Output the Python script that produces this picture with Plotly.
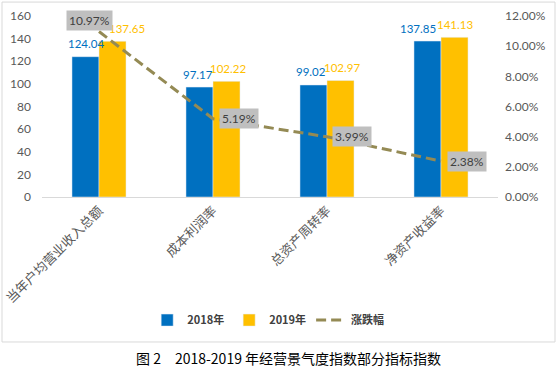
import plotly.graph_objects as go

categories = ["当年户均营业收入总额", "成本利润率", "总资产周转率", "净资产收益率"]
values_2018 = [124.04, 97.17, 99.02, 137.85]
values_2019 = [137.65, 102.22, 102.97, 141.13]
change_pct = [0.1097, 0.0519, 0.0399, 0.0238]
left_ticks = [0, 20, 40, 60, 80, 100, 120, 140, 160]
right_ticks = [0, 0.02, 0.04, 0.06, 0.08, 0.10, 0.12]

BLUE = "#0070C0"
YELLOW = "#FFC000"
OLIVE = "#948A54"
NUM_FONT = "Lato, Noto Sans CJK SC, sans-serif"
CJK_FONT = "Noto Sans CJK SC, sans-serif"

fig = go.Figure()
fig.add_trace(go.Bar(name="2018年", x=categories, y=values_2018, marker_color=BLUE))
fig.add_trace(go.Bar(name="2019年", x=categories, y=values_2019, marker_color=YELLOW))
fig.add_trace(go.Scatter(name="涨跌幅", x=categories, y=change_pct, yaxis="y2",
                         mode="lines", line=dict(color=OLIVE, width=3, dash="10px,5px")))

annotations = []
# label offsets (px) from category centre, per category
blue_xshift = [-13.5, -15.5, -16, -23.5]
yellow_xshift = [27.5, 14.5, 15, 13.5]
for i, c in enumerate(categories):
    annotations.append(dict(x=c, y=values_2018[i], text=f"{values_2018[i]:.2f}", showarrow=False,
                            xshift=blue_xshift[i], yshift=13,
                            font=dict(family=NUM_FONT, size=11.5, color=BLUE)))
    annotations.append(dict(x=c, y=values_2019[i], text=f"{values_2019[i]:.2f}", showarrow=False,
                            xshift=yellow_xshift[i], yshift=13,
                            font=dict(family=NUM_FONT, size=11.5, color=YELLOW)))
pct_shift = [(-10, 11), (26, 0), (25, 0), (26, 0)]
for i, c in enumerate(categories):
    annotations.append(dict(x=c, y=change_pct[i], yref="y2", text=f"{change_pct[i]*100:.2f}%",
                            showarrow=False, xshift=pct_shift[i][0], yshift=pct_shift[i][1],
                            bgcolor="#BFBFBF", borderpad=2,
                            font=dict(family=NUM_FONT, size=12, color="#404040")))
annotations.append(dict(xref="paper", yref="paper", x=0.54, y=-0.889, yanchor="middle",
                        showarrow=False,
                        text="图 2　2018-2019 年经营景气度指数部分指标指数",
                        font=dict(family=CJK_FONT, size=14, color="#000000")))

fig.update_layout(
    width=559, height=369,
    margin=dict(l=42, r=61, t=16, b=172),
    paper_bgcolor="white", plot_bgcolor="white",
    barmode="group", bargap=0.526, bargroupgap=0,
    showlegend=True,
    legend=dict(orientation="h", x=0.496, xanchor="center", y=-0.68, yanchor="middle",
                font=dict(family=CJK_FONT, size=11, color="#404040", weight="bold"),
                traceorder="normal", itemwidth=30),
    xaxis=dict(tickangle=-45, showline=True, linecolor="#D9D9D9", ticks="", automargin=False,
               tickfont=dict(family=CJK_FONT, size=13, color="#595959")),
    yaxis=dict(range=[0, 160], tickvals=left_ticks, showgrid=False, zeroline=False, automargin=False,
               ticklabelstandoff=10,
               tickfont=dict(family=NUM_FONT, size=12, color="#595959")),
    yaxis2=dict(range=[0, 0.12], tickvals=right_ticks, tickformat=".2%", overlaying="y",
                side="right", showgrid=False, zeroline=False, automargin=False,
                ticklabelstandoff=6,
                tickfont=dict(family=NUM_FONT, size=12, color="#595959")),
    annotations=annotations,
    shapes=[dict(type="rect", xref="paper", yref="paper", x0=-0.0877, x1=1.125, y0=-0.801, y1=1.077,
                 line=dict(color="#D9D9D9", width=1))],
)
fig.write_html("out.html", config={"displayModeBar": False},
               post_script="document.body.style.margin='0';document.body.style.overflow='hidden';")
